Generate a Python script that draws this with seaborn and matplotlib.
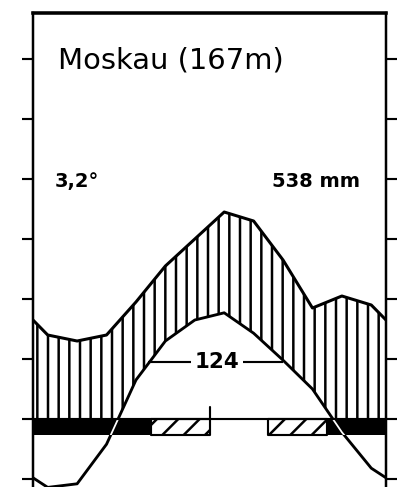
#----------- Klimadiagramm Moskau (nach Walter/Lieth) -----------#
import numpy as np
import pandas as pd
import matplotlib
matplotlib.use('Agg')
import matplotlib.pyplot as plt
from matplotlib.patches import Rectangle
import seaborn as sns

#Daten
monate = ['Jan', 'Feb', 'Mär', 'Apr', 'Mai', 'Jun', 'Jul', 'Aug', 'Sep', 'Okt', 'Nov', 'Dez']
temperatur = [-11.4, -10.8, -4.2, 6.5, 13.0, 16.5, 17.7, 14.3, 9.8, 5.0, -2.2, -8.2]
niederschlag = [28, 26, 28, 39, 51, 60, 69, 66, 53, 37, 41, 38]
#Frostperioden (Monatsanfang, Dauer in Monaten)
frost_schwarz = [(0, 4), (10, 2)]
frost_schraffiert = [(4, 2), (8, 2)]
titel = 'Moskau (167m)'
jahresmittel = '3,2°'
jahressumme = '538 mm'
tage_ueber_10 = '124'

#Aufbereitung: Monatsmitten + Randwerte (Jahreswechsel)
t = np.array(temperatur)
p = np.array(niederschlag) / 2.0   # 10 °C = 20 mm
x = np.concatenate([[0], np.arange(12) + 0.5, [12]])
t_rand = (t[0] + t[-1]) / 2
p_rand = (p[0] + p[-1]) / 2
df = pd.DataFrame({'x': x,
                   'temp': np.concatenate([[t_rand], t, [t_rand]]),
                   'nied': np.concatenate([[p_rand], p, [p_rand]])})

#Stil
sns.set_style('ticks')
plt.rcParams['font.family'] = ['DejaVu Sans']
plt.rcParams['hatch.linewidth'] = 1.4
plt.rcParams['text.color'] = 'black'
plt.rcParams['axes.edgecolor'] = 'black'
plt.rcParams['ytick.color'] = 'black'

dpi = 128
fig = plt.figure(figsize=(400 / dpi, 487 / dpi), dpi=dpi)
ax = fig.add_axes([33 / 400, -10 / 487, 353 / 400, 484 / 487])
ax.set_xlim(0, 12)
ax.set_ylim(-13, 67.67)

#Humide Zeit (senkrecht schraffiert)
coll = ax.fill_between(df['x'], df['temp'], df['nied'], where=df['nied'] >= df['temp'],
                       interpolate=True, facecolor='none', edgecolor='black',
                       hatch='||', linewidth=0, zorder=1)
coll.set_clip_path(Rectangle((0, 0), 12, 100, transform=ax.transData))

#Kurven
sns.lineplot(data=df, x='x', y='nied', color='black', linewidth=1.7, sort=False, ax=ax, zorder=3)
sns.lineplot(data=df, x='x', y='temp', color='black', linewidth=1.6, sort=False, ax=ax, zorder=3)

#Frostbalken
ax.broken_barh(frost_schwarz, (-2.6, 2.6), facecolors='black', edgecolor='black', linewidth=0, zorder=4)
ax.broken_barh(frost_schraffiert, (-2.6, 2.6), facecolors='white', edgecolor='black',
               hatch='//', linewidth=1.2, zorder=4)
weiss, = ax.plot(df['x'], df['temp'], color='white', linewidth=1.0, zorder=5)
weiss.set_clip_path(Rectangle((0, -2.6), 12, 2.6, transform=ax.transData))

#Nulllinie und Jahresmitte
ax.axhline(0, color='black', linewidth=1.2, zorder=6)
ax.plot([6, 6], [0, 2], color='black', linewidth=1.2, zorder=6)

#Dauer > 10 °C
ax.hlines(9.5, 3.9, 8.5, color='black', linewidth=1.2, zorder=6)
ax.text(6.25, 9.5, tage_ueber_10, ha='center', va='center', fontsize=12, fontweight='bold',
        bbox=dict(facecolor='white', edgecolor='none', pad=2), zorder=7)

#Beschriftung
ax.text(0.85, 58.5, titel, ha='left', va='baseline', fontsize=16.3)
ax.text(0.75, 38.6, jahresmittel, ha='left', va='baseline', fontsize=11, fontweight='bold')
ax.text(11.1, 38.6, jahressumme, ha='right', va='baseline', fontsize=11, fontweight='bold')

#Achsen
ax.set_yticks(np.arange(-10, 61, 10))
ax.set_xticks([])
ax.tick_params(axis='y', left=True, right=True, direction='out', length=6, width=1.2,
               color='black', labelleft=False, labelright=False)
ax.set_xlabel('')
ax.set_ylabel('')
for side in ['left', 'right']:
    ax.spines[side].set_linewidth(1.4)
    ax.spines[side].set_color('black')
ax.spines['top'].set_linewidth(2.0)
ax.spines['top'].set_color('black')
ax.spines['bottom'].set_visible(False)

fig.savefig('out.png', dpi=dpi, facecolor='white')
